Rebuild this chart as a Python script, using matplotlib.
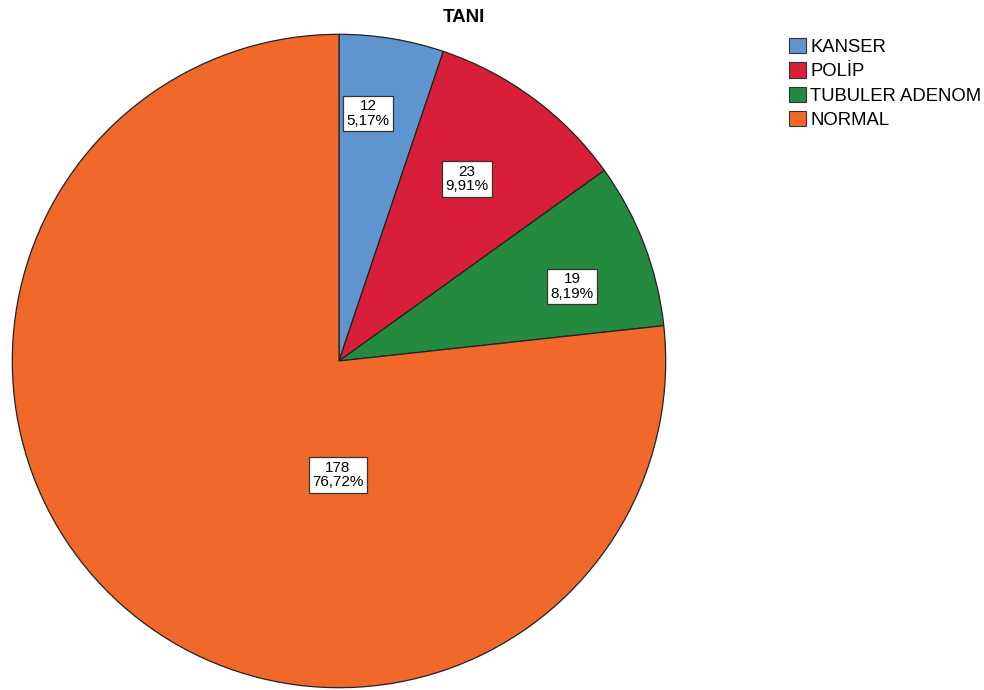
import matplotlib
matplotlib.use("Agg")
import matplotlib.pyplot as plt
import numpy as np

# data
categories = ["KANSER", "POLİP", "TUBULER ADENOM", "NORMAL"]
counts = [12, 23, 19, 178]
percents = ["5,17%", "9,91%", "8,19%", "76,72%"]
colors = ["#5f95cf", "#d81e38", "#238a3f", "#f1682b"]

# label box centres (axes data units, pie radius = 1)
label_pos = [(0.089, 0.758), (0.391, 0.557), (0.714, 0.228), (-0.003, -0.349)]

plt.rcParams["font.family"] = ["Liberation Sans", "DejaVu Sans"]

fig = plt.figure(figsize=(9.84, 6.9), dpi=100)
ax = fig.add_axes([11 / 984, 1 / 690, 656 / 984, 656 / 690])

wedges, _ = ax.pie(counts, colors=colors, startangle=90, counterclock=False,
                   radius=1.0, wedgeprops=dict(edgecolor="#222222", linewidth=0.9))
ax.set_xlim(-1.004, 1.004)
ax.set_ylim(-1.004, 1.004)
ax.set_aspect("equal")
ax.axis("off")

for (x, y), n, p in zip(label_pos, counts, percents):
    ax.text(x, y, f"{n}\n{p}", ha="center", va="center", fontsize=11,
            linespacing=1.05,
            bbox=dict(boxstyle="square,pad=0.22", facecolor="white",
                      edgecolor="#333333", linewidth=0.9))

fig.text(464 / 984, 1 - 17 / 690, "TANI", ha="center", va="center",
         fontsize=13.5, fontweight="bold")

handles = [plt.Rectangle((0, 0), 1, 1, facecolor=c, edgecolor="#333333", linewidth=0.8)
           for c in colors]
fig.legend(handles, categories, loc="upper left",
           bbox_to_anchor=(789 / 984, 1 - 38 / 690), frameon=False,
           fontsize=13.3, handlelength=0.9, handleheight=0.9,
           handletextpad=0.25, labelspacing=0.34, borderaxespad=0,
           borderpad=0)

fig.savefig("out.png", dpi=100)
